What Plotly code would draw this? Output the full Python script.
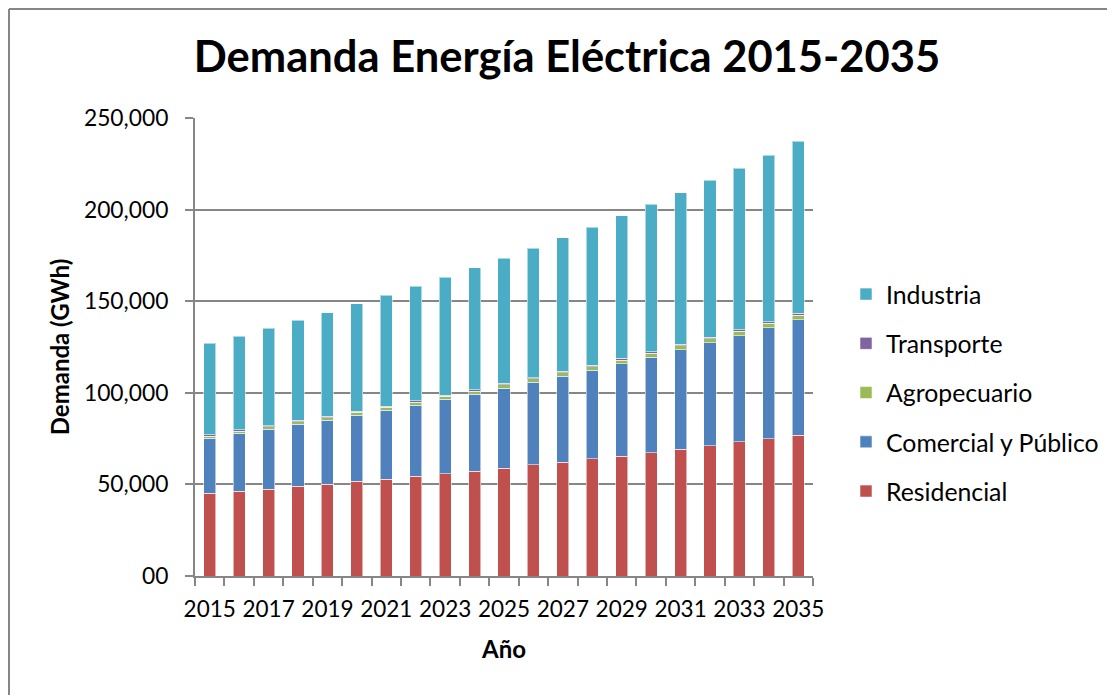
import plotly.graph_objects as go

years = [str(y) for y in range(2015, 2036)]
tick_text = [y if i % 2 == 0 else "" for i, y in enumerate(years)]

residencial = [45100, 46300, 47400, 48900, 50200, 51600, 52900, 54400, 55700, 57100,
               58900, 60600, 62200, 63900, 65500, 67300, 69200, 71000, 73200, 74800, 76800]
comercial = [30100, 31600, 32700, 34000, 34800, 36200, 37600, 38900, 40700, 42200,
             43700, 45200, 46900, 48500, 50400, 52200, 54200, 56200, 58000, 60600, 63000]
agropecuario = [1200, 1250, 1300, 1350, 1400, 1450, 1500, 1550, 1600, 1650,
                1700, 1750, 1800, 1900, 2000, 2100, 2200, 2300, 2400, 2500, 2600]
transporte = [700, 700, 700, 750, 750, 750, 750, 750, 750, 800,
              800, 800, 850, 850, 850, 850, 900, 900, 900, 900, 900]
industria = [49900, 51150, 53100, 54600, 56650, 58500, 60550, 62600, 64350, 66450,
             68300, 70650, 72950, 75350, 77850, 80350, 82600, 85600, 88100, 90900, 93900]

y_tickvals = [0, 50000, 100000, 150000, 200000, 250000]
y_ticktext = ["00", "50,000", "100,000", "150,000", "200,000", "250,000"]

series = [
    ("Residencial", residencial, "#C0504D", 5),
    ("Comercial y Público", comercial, "#4F81BD", 4),
    ("Agropecuario", agropecuario, "#9BBB59", 3),
    ("Transporte", transporte, "#8064A2", 2),
    ("Industria", industria, "#4BACC6", 1),
]

FONT = "Lato"

fig = go.Figure()
for name, vals, color, rank in series:
    fig.add_trace(go.Bar(
        x=years, y=vals, name=name, legendgroup=name, legendrank=rank,
        marker=dict(color=color, line=dict(color="rgba(255,255,255,0.55)", width=1)),
    ))

# page offset of the figure (body margin) and page-based geometry
OFF = 8
W, H = 1107, 687
PL, PR, PT, PB = 195, 813, 118, 576   # plot area in page pixels
L = PL - OFF
T = PT - OFF
R = W - (PR - OFF)
B = H - (PB - OFF)
pw, ph = PR - PL, PB - PT

def px(x):
    return (x - PL) / pw

def py(y):
    return (PB - y) / ph

border = dict(color="#868686", width=2)

fig.update_layout(
    width=W, height=H,
    margin=dict(l=L, r=R, t=T, b=B, autoexpand=False),
    paper_bgcolor="white", plot_bgcolor="white",
    barmode="stack", bargap=0.59,
    font=dict(family=FONT, color="black", size=22),
    title=dict(text="<b>Demanda Energía Eléctrica 2015-2035</b>",
               font=dict(family=FONT, size=43.5, color="black"),
               xref="paper", x=px(567), xanchor="center",
               yref="container", y=1 - (57 - OFF) / H, yanchor="middle"),
    legend=dict(traceorder="grouped", tracegroupgap=14,
                x=px(846), xanchor="left", y=py(393), yanchor="middle",
                font=dict(family=FONT, size=24.8, color="black"),
                bgcolor="rgba(0,0,0,0)"),
    xaxis=dict(type="category", tickmode="array", tickvals=years, ticktext=tick_text,
               tickson="boundaries", ticks="outside", ticklen=8, tickwidth=2,
               tickcolor="#868686", showline=True, linecolor="#868686", linewidth=2,
               showgrid=False, tickangle=0, ticklabelstandoff=12,
               tickfont=dict(family=FONT, size=22.5, color="black"),
               title=dict(text="<b>Año</b>", font=dict(family=FONT, size=24, color="black"),
                          standoff=20)),
    yaxis=dict(range=[0, 250000], tickmode="array", tickvals=y_tickvals, ticktext=y_ticktext,
               ticks="outside", ticklen=8, tickwidth=2, tickcolor="#868686",
               showline=True, linecolor="#868686", linewidth=2,
               showgrid=True, gridcolor="#868686", gridwidth=2, zeroline=False,
               tickfont=dict(family=FONT, size=22.8, color="black"),
               ticklabelstandoff=12,
               title=dict(text="<b>Demanda (GWh)</b>", font=dict(family=FONT, size=24, color="black"),
                          standoff=8)),
    shapes=[
        dict(type="line", xref="paper", yref="paper",
             x0=px(9), x1=px(9), y0=py(9), y1=py(720), line=border, layer="below"),
        dict(type="line", xref="paper", yref="paper",
             x0=px(9), x1=px(1140), y0=py(9), y1=py(9), line=border, layer="below"),
    ],
)

fig.write_html("out.html")
